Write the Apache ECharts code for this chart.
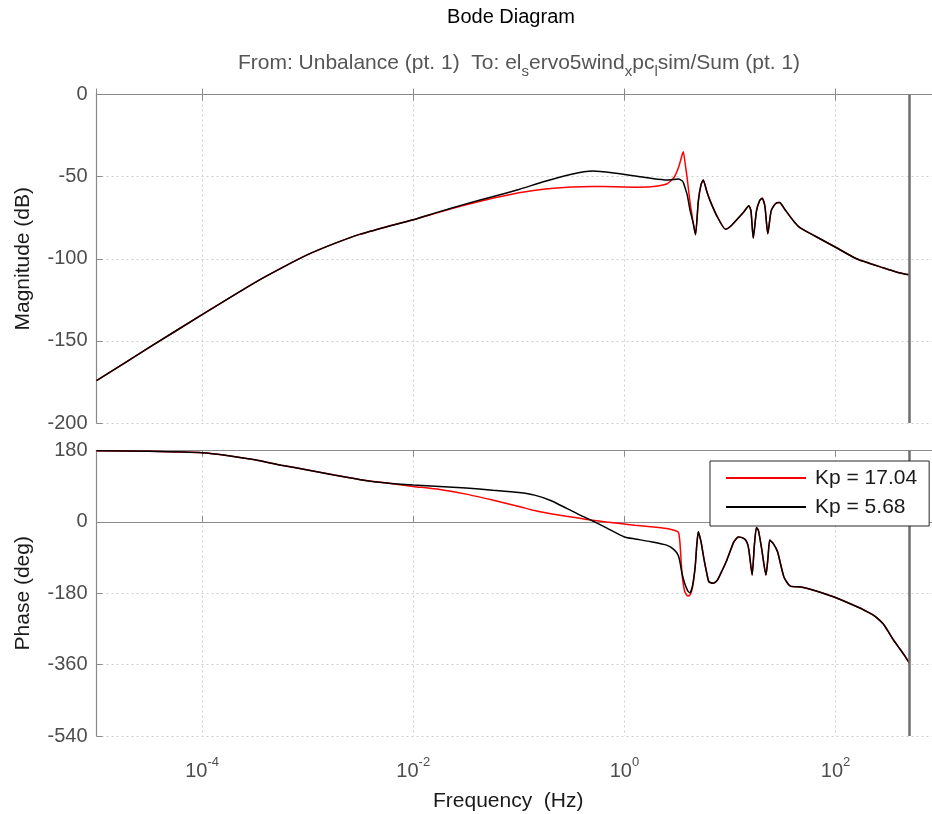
<!DOCTYPE html>
<html><head><meta charset="utf-8">
<script src="https://cdn.jsdelivr.net/npm/echarts@6/dist/echarts.min.js"></script>
<style>html,body{margin:0;padding:0;background:#fff}#c{width:932px;height:814px}</style>
</head><body><div id="c"></div>
<script>
// ---- data ----
const seriesNames = ['Kp = 17.04', 'Kp = 5.68'];
const nyquistHz = 500;
const freqMinHz = 0.00001;
const freqMaxHz = 818.6;   // right edge of the visible plot area

// magnitude frequencies (Hz)
const magFreq = [0.00001,0.0000316,0.0001,0.000316,0.000562,0.001,0.00178,0.00316,0.00562,0.01,0.0178,0.0316,0.0562,0.1,0.178,0.316,0.501,0.794,1.26,1.78,2.51,2.95,3.27,3.51,3.61,3.76,3.93,4.17,4.47,4.71,5.01,5.31,5.57,6.03,6.53,7.59,9.06,10,11.7,13.5,15.1,15.8,16.6,17.8,19.1,20.2,21.4,22.8,24.5,26.9,29.4,33.1,40.3,46.6,63.1,100,158,282,398,500];
// magnitude (dB), Kp = 5.68 (black)
const magKp568 = [-174.2,-154,-134,-114.5,-105.7,-97.5,-90.8,-85,-80.5,-76.3,-71.3,-66.6,-62.3,-57.8,-52.8,-48.5,-46.6,-47.8,-49.6,-51,-52,-51.7,-51.4,-52.5,-53.5,-57,-61,-70,-78,-85.4,-65,-55,-52,-59,-65.2,-74.5,-82,-80.5,-75.9,-71.5,-67.8,-71,-87.4,-71,-64.5,-63.1,-68,-84.8,-71,-66.5,-65.8,-70,-77.3,-81.4,-86,-93,-100,-105.5,-108.5,-109.8];
// magnitude (dB), Kp = 17.04 (red)
const magKp1704 = [-174.2,-154,-134,-114.5,-105.7,-97.5,-90.8,-85,-80.5,-76.3,-71.5,-67.1,-63.2,-59.8,-57.5,-56.3,-56,-56.2,-56.4,-56.2,-54.5,-50.5,-44,-37,-34.8,-42,-51,-65,-77.5,-85.4,-65,-55,-52,-59,-65.2,-74.5,-82,-80.5,-75.9,-71.5,-67.8,-71,-87.4,-71,-64.5,-63.1,-68,-84.8,-71,-66.5,-65.8,-70,-77.3,-81.4,-86,-93,-100,-105.5,-108.5,-109.8];

// phase frequencies (Hz)
const phaseFreq = [0.00001,0.0000316,0.0001,0.000178,0.000316,0.000562,0.001,0.00178,0.00316,0.00562,0.01,0.0178,0.0316,0.0562,0.1,0.141,0.2,0.282,0.38,0.479,0.676,1,1.26,1.78,2.51,2.95,3.24,3.35,3.51,3.72,3.98,4.17,4.42,4.68,4.84,5.01,5.31,5.62,6.03,6.31,6.92,7.59,8.51,9.33,10.9,12.0,13.5,14.5,15.1,16.2,17.0,17.8,18.6,20.0,21.9,22.9,23.8,25.7,28.2,32.4,37.2,46.8,63.1,95.5,174,200,224,251,282,316,355,398,447,500];
// phase (deg), Kp = 5.68 (black)
const phaseKp568 = [179.5,178,174.5,167,156.5,143,131,118,106.5,98,93,89.5,85.5,80,74,67.5,54,34.5,17,4.8,-15,-38,-43,-50,-58.7,-70,-85,-100,-130,-155,-174,-179,-160,-113,-60,-25,-50,-88,-130,-151,-155,-147,-120,-96.6,-50,-38,-41.8,-52,-71,-134,-60,-14,-22,-70,-134,-90,-46,-55,-75.6,-138.8,-162,-164,-173,-189,-218.6,-227,-234,-244,-257,-277,-298.6,-317,-336,-356];
// phase (deg), Kp = 17.04 (red)
const phaseKp1704 = [179.5,178,174.5,167,156.5,143,131,118,106.5,98,89.5,81.5,70,55,39,28.5,20.5,14,9,4.8,-0.4,-5.5,-8.5,-12,-16.5,-21,-26,-50,-130,-175,-187,-185,-165,-113,-60,-25,-50,-88,-130,-151,-155,-147,-120,-96.6,-50,-38,-41.8,-52,-71,-134,-60,-14,-22,-70,-134,-90,-46,-55,-75.6,-138.8,-162,-164,-173,-189,-218.6,-227,-234,-244,-257,-277,-298.6,-317,-336,-356];

// ---- chart ----
const FONT = '"Liberation Sans", Arial, Helvetica, sans-serif';
const axisGray = '#8a8a8a';
const labelGray = '#4d4d4d';
const gridLeft = 96.5, gridW = 835.5;

function pairs(xs, ys) { return xs.map((x, i) => [x, ys[i]]); }

function xAxis(gridIndex, position, withLabels, withGrid) {
  return {
    type: 'log', logBase: 100, gridIndex, position,
    min: freqMinHz, max: freqMaxHz,
    axisLine: { show: true, lineStyle: { color: axisGray, width: 1.2 } },
    axisTick: { show: true, inside: true, length: 6, lineStyle: { color: axisGray } },
    minorTick: { show: false },
    splitLine: { show: withGrid, lineStyle: { color: '#cfcfcf', type: [2, 3], width: 1 } },
    axisLabel: withLabels ? {
      show: true, margin: 20, showMinLabel: false, showMaxLabel: false,
      formatter: v => '{b|10}{s|' + Math.round(Math.log10(v)) + '}',
      rich: {
        b: { fontSize: 20, fontFamily: FONT, color: labelGray },
        s: { fontSize: 13, fontFamily: FONT, color: labelGray, padding: [0, 0, 18, 0] }
      }
    } : { show: false },
    name: withLabels ? 'Frequency  (Hz)' : '',
    nameLocation: 'middle', nameGap: 55,
    nameTextStyle: { fontSize: 21, fontFamily: FONT, color: '#1a1a1a', padding: [0, 0, 0, -12] }
  };
}

function yAxis(gridIndex, min, max, interval, name) {
  return {
    type: 'value', gridIndex, min, max, interval,
    axisLine: { show: true, lineStyle: { color: axisGray, width: 1.2 } },
    axisTick: { show: true, inside: true, length: 6, lineStyle: { color: axisGray } },
    splitLine: { show: true, lineStyle: { color: '#cfcfcf', type: [2, 3], width: 1 } },
    axisLabel: { fontSize: 20, fontFamily: FONT, color: labelGray, margin: 9 },
    name, nameLocation: 'middle', nameGap: 63,
    nameTextStyle: { fontSize: 21, fontFamily: FONT, color: '#1a1a1a' }
  };
}

const vline = {
  symbol: 'none', silent: true, animation: false,
  label: { show: false },
  lineStyle: { color: '#6e6e6e', width: 2.5, type: 'solid' },
  data: [{ xAxis: nyquistHz }]
};

function line(name, color, xi, yi, data, mark) {
  const s = {
    name, type: 'line', xAxisIndex: xi, yAxisIndex: yi, data,
    showSymbol: false, symbol: 'none', smooth: 0.2,
    lineStyle: { color, width: 1.5 }, itemStyle: { color },
    animation: false, z: color === '#000000' ? 3 : 2
  };
  if (mark) s.markLine = vline;
  return s;
}

const chart = echarts.init(document.getElementById('c'), null, { renderer: 'canvas' });
chart.setOption({
  backgroundColor: '#ffffff',
  animation: false,
  graphic: [
    { type: 'text', x: 511, y: 17, style: { text: 'Bode Diagram', fontSize: 20, fontFamily: FONT, fill: '#000', align: 'center', verticalAlign: 'middle' } },
    { type: 'text', x: 519, y: 63, style: {
        text: 'From: Unbalance (pt. 1)  To: el{s|s}ervo5wind{s|x}pc{s|l}sim/Sum (pt. 1)',
        fontSize: 21, fontFamily: FONT, fill: '#555555', align: 'center', verticalAlign: 'middle',
        rich: { s: { fontSize: 15, fontFamily: FONT, fill: '#555555', padding: [18, 0, 0, 0] } }
    } }
  ],
  grid: [
    { left: gridLeft, top: 94.5, width: gridW, height: 328.5, containLabel: false, outerBoundsMode: 'none' },
    { left: gridLeft, top: 450.5, width: gridW, height: 285.5, containLabel: false, outerBoundsMode: 'none' }
  ],
  xAxis: [
    xAxis(0, 'bottom', false, true),
    xAxis(0, 'top', false, false),
    xAxis(1, 'bottom', true, true),
    xAxis(1, 'top', false, false)
  ],
  yAxis: [
    yAxis(0, -200, 0, 50, 'Magnitude (dB)'),
    yAxis(1, -540, 180, 180, 'Phase (deg)')
  ],
  legend: {
    show: true, orient: 'vertical', left: 710, top: 461,
    data: seriesNames, icon: 'rect', itemWidth: 80, itemHeight: 2, itemGap: 5,
    padding: [5, 12, 7, 16], borderColor: '#262626', borderWidth: 1, backgroundColor: '#ffffff',
    textStyle: { fontSize: 21, fontFamily: FONT, color: '#1a1a1a', lineHeight: 24, padding: [0, 0, 0, 4] },
    selectedMode: false, z: 10
  },
  series: [
    line(seriesNames[0], '#ff0000', 0, 0, pairs(magFreq, magKp1704), false),
    line(seriesNames[1], '#000000', 0, 0, pairs(magFreq, magKp568), true),
    line(seriesNames[0], '#ff0000', 2, 1, pairs(phaseFreq, phaseKp1704), false),
    line(seriesNames[1], '#000000', 2, 1, pairs(phaseFreq, phaseKp568), true)
  ]
});
</script></body></html>
